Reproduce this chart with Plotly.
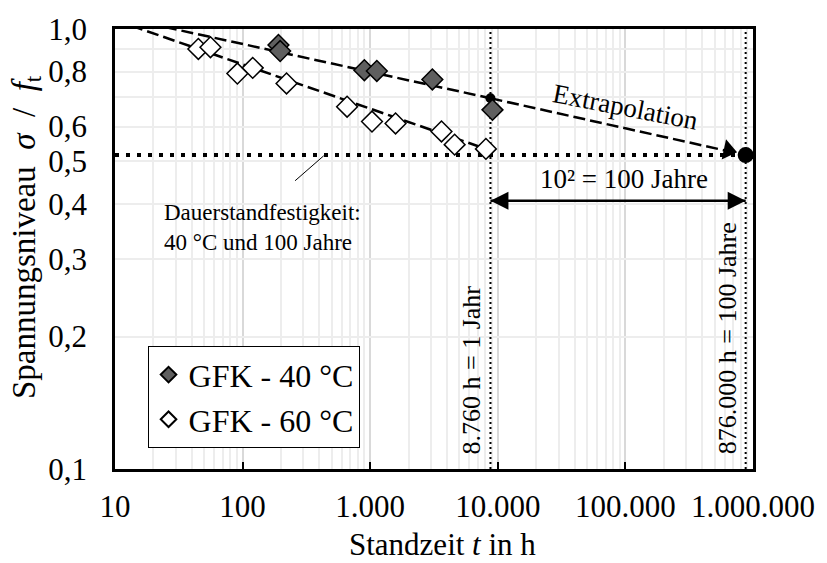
import numpy as np
import plotly.graph_objects as go

# ---------------- data ----------------
t40 = [191, 197, 900, 1127, 3070, 9080]
s40 = [0.920, 0.891, 0.806, 0.803, 0.768, 0.655]
t60 = [45, 56, 91, 120, 221, 659, 1033, 1580, 3620, 4590, 8070]
s60 = [0.901, 0.909, 0.792, 0.816, 0.752, 0.666, 0.616, 0.610, 0.585, 0.546, 0.534]

trend40_t = [10, 8760]
trend40_s = [1.07, 0.696]
trend60_t = [10, 8070]
trend60_s = [1.048, 0.534]

extrap_t = [8760, 876000]
extrap_s = [0.696, 0.517]
arrowhead_t = [640000]
arrowhead_s = [0.530]

year1_t = 8760
year100_t = 876000
limit_s = 0.517
span_s = 0.407

leader_t = [258, 432]
leader_s = [0.452, 0.515]

x_ticks = [10, 100, 1000, 10000, 100000, 1000000]
x_ticklabels = ["10", "100", "1.000", "10.000", "100.000", "1.000.000"]
x_minor = [m * 10 ** e for e in range(1, 6) for m in range(2, 10)]
y_ticks = [0.1, 0.2, 0.3, 0.4, 0.5, 0.6, 0.7, 0.8, 0.9, 1.0]
y_ticklabels = ["0,1", "0,2", "0,3", "0,4", "0,5", "0,6", "", "0,8", "", "1,0"]

FONT = "Liberation Serif"
L = np.log10

fig = go.Figure()

# vertical dotted reference lines
for xv in (year1_t, year100_t):
    fig.add_trace(go.Scatter(x=[xv, xv], y=[0.1, 1.0], mode="lines",
                             line=dict(color="black", width=2, dash="2px,3px"),
                             showlegend=False, hoverinfo="skip"))

# horizontal dotted limit line
fig.add_trace(go.Scatter(x=[10, year100_t], y=[limit_s, limit_s], mode="lines",
                         line=dict(color="black", width=4, dash="4px,7px"),
                         showlegend=False, hoverinfo="skip"))

# trend lines
dash_line = dict(color="black", width=2.5, dash="12px,5px")
fig.add_trace(go.Scatter(x=trend40_t, y=trend40_s, mode="lines", line=dash_line,
                         showlegend=False, hoverinfo="skip"))
fig.add_trace(go.Scatter(x=trend60_t, y=trend60_s, mode="lines", line=dash_line,
                         showlegend=False, hoverinfo="skip"))
fig.add_trace(go.Scatter(x=extrap_t, y=extrap_s, mode="lines", line=dash_line,
                         showlegend=False, hoverinfo="skip"))
# arrow head
fig.add_trace(go.Scatter(x=arrowhead_t, y=arrowhead_s, mode="markers",
                         marker=dict(symbol="triangle-right", size=18, angle=12, color="black"),
                         showlegend=False, hoverinfo="skip"))
# small dot at 1 year
fig.add_trace(go.Scatter(x=[year1_t], y=[extrap_s[0]], mode="markers",
                         marker=dict(symbol="circle", size=10, color="black"),
                         showlegend=False, hoverinfo="skip"))
# big dot at 100 years
fig.add_trace(go.Scatter(x=[year100_t], y=[limit_s], mode="markers",
                         marker=dict(symbol="circle", size=16, color="black"),
                         showlegend=False, hoverinfo="skip"))

# double arrow 10^2
fig.add_trace(go.Scatter(x=[year1_t, year100_t], y=[span_s, span_s], mode="lines+markers",
                         line=dict(color="black", width=2.5),
                         marker=dict(symbol=["arrow-left", "arrow-right"], size=18, color="black"),
                         showlegend=False, hoverinfo="skip"))

# leader line
fig.add_trace(go.Scatter(x=leader_t, y=leader_s, mode="lines",
                         line=dict(color="black", width=1),
                         showlegend=False, hoverinfo="skip"))

# data
fig.add_trace(go.Scatter(x=t40, y=s40, mode="markers", name="GFK - 40 °C",
                         marker=dict(symbol="diamond", size=16, color="#5f5f5f",
                                     line=dict(color="black", width=1.5))))
fig.add_trace(go.Scatter(x=t60, y=s60, mode="markers", name="GFK - 60 °C",
                         marker=dict(symbol="diamond", size=16, color="white",
                                     line=dict(color="black", width=1.5))))

ann = [
    dict(x=L(year1_t), y=L(0.107), xref="x", yref="y", text="8.760 h = 1 Jahr",
         textangle=-90, xanchor="right", yanchor="bottom", xshift=-2, size=26),
    dict(x=L(year100_t), y=L(0.107), xref="x", yref="y", text="876.000 h = 100 Jahre",
         textangle=-90, xanchor="right", yanchor="bottom", xshift=-2, size=26),
    dict(x=5.0, y=-0.1764, xref="x", yref="y", text="Extrapolation",
         textangle=11, xanchor="center", yanchor="middle", size=27),
    dict(x=4.99, y=-0.342, xref="x", yref="y", text="10² = 100 Jahre",
         xanchor="center", yanchor="middle", size=27),
    dict(x=1.370, y=-0.450, xref="x", yref="y", text="Dauerstandfestigkeit:<br>40 °C und 100 Jahre",
         xanchor="left", yanchor="middle", align="left", size=23),
    dict(x=-0.139, y=0.155, xref="paper", yref="paper",
         text="Spannungsniveau&nbsp; <i>σ</i>&nbsp; /&nbsp; <i>f</i><sub>t</sub>", textangle=-90,
         xanchor="center", yanchor="bottom", size=33),
    dict(x=0.513, y=-0.171, xref="paper", yref="paper",
         text="Standzeit <i>t</i> in h", xanchor="center", yanchor="middle", size=31),
]
for a in ann:
    a["showarrow"] = False
    a["font"] = dict(family=FONT, color="black", size=a.pop("size"))

fig.update_layout(
    width=827, height=563,
    margin=dict(l=115, r=64, t=25, b=94),
    paper_bgcolor="white", plot_bgcolor="white",
    font=dict(family=FONT, size=31, color="black"),
    annotations=ann,
    showlegend=True,
    legend=dict(x=0.051, y=0.047, xanchor="left", yanchor="bottom",
                bgcolor="white", bordercolor="black", borderwidth=1,
                font=dict(family=FONT, size=32, color="black"),
                tracegroupgap=0, itemsizing="constant"),
)
fig.update_xaxes(type="log", range=[1, 6],
                 tickvals=x_ticks, ticktext=x_ticklabels,
                 ticks="inside", ticklen=7, tickwidth=1.5, tickcolor="black",
                 showgrid=True, gridcolor="#d9d9d9", gridwidth=1.5,
                 minor=dict(tickvals=x_minor, showgrid=True, gridcolor="#ededed", gridwidth=1.5, ticks=""),
                 showline=True, linecolor="black", linewidth=2.5, mirror=True,
                 zeroline=False, ticklabelstandoff=8,
                 tickfont=dict(family=FONT, size=31, color="black"))
fig.update_yaxes(type="log", range=[-1, 0],
                 tickvals=y_ticks, ticktext=y_ticklabels,
                 ticks="",
                 showgrid=True, gridcolor="#ededed", gridwidth=1.5,
                 showline=True, linecolor="black", linewidth=2.5, mirror=True,
                 zeroline=False, ticklabelstandoff=19,
                 tickfont=dict(family=FONT, size=31, color="black"))

fig.write_html("out.html")
